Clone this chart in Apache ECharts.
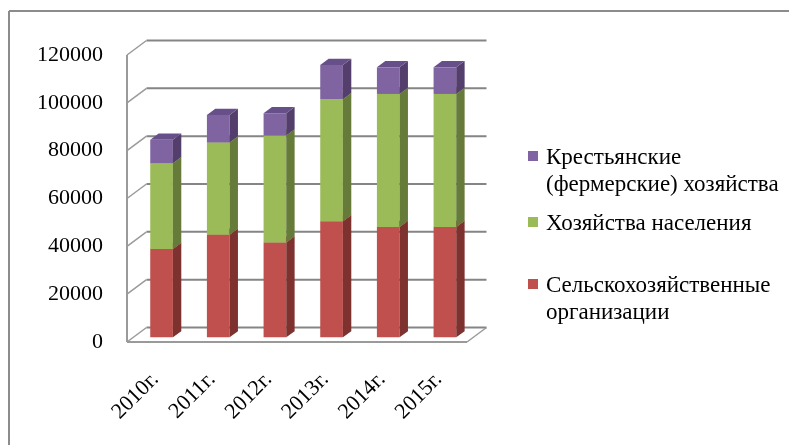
<!DOCTYPE html>
<html>
<head>
<meta charset="utf-8">
<script src="https://cdn.jsdelivr.net/npm/echarts@6/dist/echarts.min.js"></script>
<style>
  html, body { margin: 0; padding: 0; background: #fff; }
  #chart { width: 789px; height: 445px; }
</style>
</head>
<body>
<div id="chart"></div>
<script>
// Categories and stacked values (head of stock by producer type)
const categories = ['2010г.', '2011г.', '2012г.', '2013г.', '2014г.', '2015г.'];
const agriOrgs   = [36900, 42900, 39700, 48500, 46100, 46100];
const households = [35900, 38600, 44700, 51100, 55700, 55700];
const farms      = [9800, 11500, 9300, 14300, 11100, 11100];
const yTicks     = [0, 20000, 40000, 60000, 80000, 100000, 120000];

const nameAgri  = 'Сельскохозяйственные организации';
const nameHouse = 'Хозяйства населения';
const nameFarm  = 'Крестьянские (фермерские) хозяйства';

// Pseudo-3D depth vector (pixels) and where the columns sit inside the depth
const DEPTH = [19.5, -14.5];
const BAR_FRONT = 0.32;
const BAR_BACK = 0.75;
const BAR_RATIO = 0.4;

const FONT = '"Liberation Serif", "Times New Roman", serif';

// Build [categoryIndex, bottom, top] rows for each stacked layer
function stackRows(layers) {
  const out = layers.map(() => []);
  categories.forEach((c, i) => {
    let base = 0;
    layers.forEach((arr, k) => {
      out[k].push([i, base, base + arr[i]]);
      base += arr[i];
    });
  });
  return out;
}
const [rowsAgri, rowsHouse, rowsFarm] = stackRows([agriOrgs, households, farms]);

function boxRenderer(front, side, top) {
  return function (params, api) {
    const x = api.value(0), lo = api.value(1), hi = api.value(2);
    const pLo = api.coord([x, lo]);
    const pHi = api.coord([x, hi]);
    const bw = api.size([1, 0])[0] * BAR_RATIO;
    const ox = DEPTH[0] * BAR_FRONT, oy = DEPTH[1] * BAR_FRONT;
    const dx = DEPTH[0] * (BAR_BACK - BAR_FRONT), dy = DEPTH[1] * (BAR_BACK - BAR_FRONT);
    const l = pLo[0] - bw / 2 + ox, r = l + bw;
    const b = pLo[1] + oy, t = pHi[1] + oy;
    return {
      type: 'group',
      children: [
        { type: 'polygon', shape: { points: [[l, b], [r, b], [r, t], [l, t]] }, style: { fill: front } },
        { type: 'polygon', shape: { points: [[r, b], [r + dx, b + dy], [r + dx, t + dy], [r, t]] }, style: { fill: side } },
        { type: 'polygon', shape: { points: [[l, t], [l + dx, t + dy], [r + dx, t + dy], [r, t]] }, style: { fill: top } }
      ]
    };
  };
}

// Walls: back gridlines, side-wall diagonals and floor edges at each tick value
function frameRenderer(params, api) {
  const v = api.value(0);
  const cs = params.coordSys;
  const y = api.coord([0, v])[1];
  const xl = cs.x, xr = cs.x + cs.width;
  const children = [
    { type: 'line', shape: { x1: xl + DEPTH[0], y1: y + DEPTH[1], x2: xr + DEPTH[0], y2: y + DEPTH[1] },
      style: { stroke: '#858585', lineWidth: 2 } },
    { type: 'line', shape: { x1: xl, y1: y, x2: xl + DEPTH[0], y2: y + DEPTH[1] },
      style: { stroke: '#9a9a9a', lineWidth: 1.5 } }
  ];
  if (v === 0) {
    children.push(
      { type: 'line', shape: { x1: xl, y1: y, x2: xr, y2: y }, style: { stroke: '#9a9a9a', lineWidth: 2 } },
      { type: 'line', shape: { x1: xr, y1: y, x2: xr + DEPTH[0], y2: y + DEPTH[1] }, style: { stroke: '#9a9a9a', lineWidth: 1.5 } },
      { type: 'line', shape: { x1: xl, y1: y, x2: xl, y2: cs.y }, style: { stroke: '#9a9a9a', lineWidth: 2 } }
    );
  }
  return { type: 'group', children };
}

const chart = echarts.init(document.getElementById('chart'), null, { renderer: 'canvas' });

const legendItems = [
  { name: nameFarm,  lines: 'Крестьянские\n(фермерские) хозяйства', color: '#8064A2', top: 144 },
  { name: nameHouse, lines: 'Хозяйства населения', color: '#9BBB59', top: 210 },
  { name: nameAgri,  lines: 'Сельскохозяйственные\nорганизации', color: '#C0504D', top: 272 }
];

const graphics = [
  { type: 'line', shape: { x1: 9, y1: 11, x2: 789, y2: 11 }, style: { stroke: '#8c8c8c', lineWidth: 2 } },
  { type: 'line', shape: { x1: 9, y1: 11, x2: 9, y2: 445 }, style: { stroke: '#8c8c8c', lineWidth: 2 } }
];
legendItems.forEach(it => {
  graphics.push({ type: 'rect', shape: { x: 528, y: it.top + 7, width: 10, height: 10 }, style: { fill: it.color } });
  graphics.push({ type: 'text', x: 546, y: it.top,
    style: { text: it.lines, font: '23px ' + FONT, fill: '#000', lineHeight: 27, textVerticalAlign: 'top' } });
});

chart.setOption({
  animation: false,
  backgroundColor: '#fff',
  grid: { left: 127, right: 322, top: 55, bottom: 103, containLabel: false },
  xAxis: {
    type: 'category',
    data: categories,
    axisLine: { show: false },
    axisTick: { show: false },
    axisLabel: { rotate: 45, margin: 34, interval: 0, color: '#000', fontFamily: FONT, fontSize: 22 }
  },
  yAxis: {
    type: 'value',
    min: 0, max: 120000, interval: 20000,
    axisLine: { show: false },
    axisTick: { show: false },
    splitLine: { show: false },
    axisLabel: { margin: 24, color: '#000', fontFamily: FONT, fontSize: 22, formatter: v => String(v) }
  },
  graphic: graphics,
  series: [
    { type: 'custom', name: 'frame', data: yTicks.map(v => [v]), renderItem: frameRenderer,
      encode: { y: 0 }, silent: true, z: 1 },
    { type: 'custom', name: nameAgri, data: rowsAgri, encode: { x: 0, y: [1, 2] },
      renderItem: boxRenderer('#C0504D', '#7D3230', '#A84543'), z: 2 },
    { type: 'custom', name: nameHouse, data: rowsHouse, encode: { x: 0, y: [1, 2] },
      renderItem: boxRenderer('#9BBB59', '#667B3A', '#86A34B'), z: 2 },
    { type: 'custom', name: nameFarm, data: rowsFarm, encode: { x: 0, y: [1, 2] },
      renderItem: boxRenderer('#8064A2', '#543F6C', '#67508A'), z: 2 }
  ]
});
</script>
</body>
</html>
